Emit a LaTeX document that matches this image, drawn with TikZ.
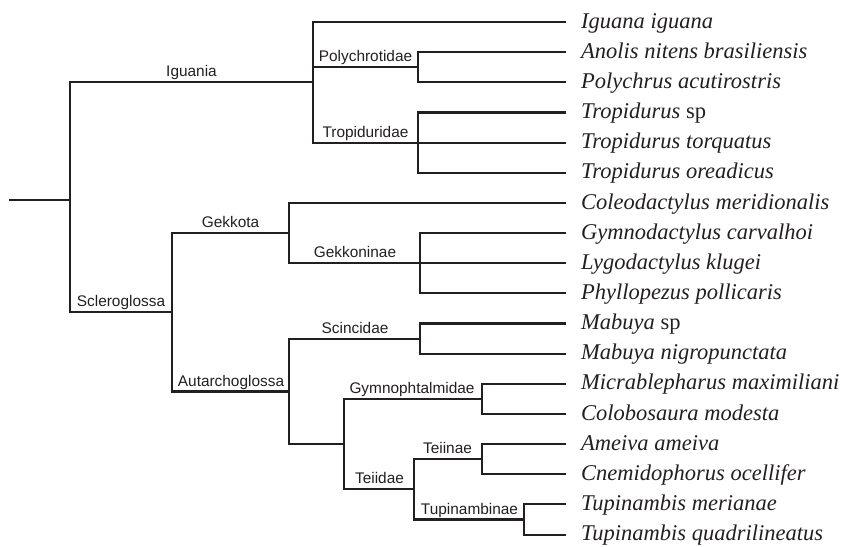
\documentclass[tikz,border=0pt]{standalone}
\usepackage{fontspec}
\setmainfont{Liberation Serif}
\setsansfont{Liberation Sans}
\definecolor{ink}{HTML}{231F20}
\begin{document}
\begin{tikzpicture}[x=1pt,y=-1pt,
  branch/.style={draw=ink,line width=2.1pt,line cap=rect},
  taxon/.style={anchor=base west,inner sep=0pt,text=ink,font=\fontsize{22.5}{24}\selectfont\itshape},
  clade/.style={anchor=base,inner sep=0pt,text=ink,font=\fontsize{15.4}{17}\selectfont\sffamily}]
\useasboundingbox (0,0) rectangle (842,546);
% leaf ends
\foreach \i/\yy in {0/22,1/52.2,2/82.3,3/112.5,4/142.6,5/172.8,6/203,7/233,8/263.2,9/293.4,10/323.5,11/353.7,12/383.8,13/414,14/444.1,15/474.3,16/504.4,17/534.6}{
  \coordinate (e\i) at (565,\yy);
}
% taxon names
\node[taxon] (t0) at (581,28) {Iguana iguana};
\node[taxon] (t1) at (581,58.2) {Anolis nitens brasiliensis};
\node[taxon] (t2) at (581,88.3) {Polychrus acutirostris};
\node[taxon] (t3) at (581,118.5) {Tropidurus\/ \upshape sp};
\node[taxon] (t4) at (581,148.6) {Tropidurus torquatus};
\node[taxon] (t5) at (581,178.8) {Tropidurus oreadicus};
\node[taxon] (t6) at (581,209) {Coleodactylus meridionalis};
\node[taxon] (t7) at (581,239) {Gymnodactylus carvalhoi};
\node[taxon] (t8) at (581,269.2) {Lygodactylus klugei};
\node[taxon] (t9) at (581,299.4) {Phyllopezus pollicaris};
\node[taxon] (t10) at (581,329.5) {Mabuya\/ \upshape sp};
\node[taxon] (t11) at (581,359.7) {Mabuya nigropunctata};
\node[taxon] (t12) at (581,389.8) {Micrablepharus maximiliani};
\node[taxon] (t13) at (581,420) {Colobosaura modesta};
\node[taxon] (t14) at (581,450.1) {Ameiva ameiva};
\node[taxon] (t15) at (581,480.3) {Cnemidophorus ocellifer};
\node[taxon] (t16) at (581,510.4) {Tupinambis merianae};
\node[taxon] (t17) at (581,540.6) {Tupinambis quadrilineatus};
% internal nodes
\coordinate (stem) at (10,200);
\coordinate (root) at (70,200);
\coordinate (ig) at (313,82.3);
\coordinate (poly) at (418,67.2);
\coordinate (trop) at (418,142.6);
\coordinate (sc) at (172,312);
\coordinate (gek) at (289,233);
\coordinate (gekk) at (420,263.2);
\coordinate (aut) at (289,391.5);
\coordinate (scin) at (420,338.6);
\coordinate (low) at (344,444);
\coordinate (gym) at (482,398.9);
\coordinate (tei) at (414,489);
\coordinate (teiin) at (482,459.2);
\coordinate (tup) at (524,519.5);
% branches
\draw[branch] (stem) -- (root);
\draw[branch] (root) |- (ig);
\draw[branch] (root) |- (sc);
\draw[branch] (ig) |- (e0);
\draw[branch] (ig) |- (poly);
\draw[branch] (ig) |- (trop);
\draw[branch] (poly) |- (e1);
\draw[branch] (poly) |- (e2);
\draw[branch] (trop) |- (e3);
\draw[branch] (trop) -- (e4);
\draw[branch] (trop) |- (e5);
\draw[branch] (sc) |- (gek);
\draw[branch] (sc) |- (aut);
\draw[branch] (gek) |- (e6);
\draw[branch] (gek) |- (gekk);
\draw[branch] (gekk) |- (e7);
\draw[branch] (gekk) -- (e8);
\draw[branch] (gekk) |- (e9);
\draw[branch] (aut) |- (scin);
\draw[branch] (aut) |- (low);
\draw[branch] (scin) |- (e10);
\draw[branch] (scin) |- (e11);
\draw[branch] (low) |- (gym);
\draw[branch] (low) |- (tei);
\draw[branch] (gym) |- (e12);
\draw[branch] (gym) |- (e13);
\draw[branch] (tei) |- (teiin);
\draw[branch] (tei) |- (tup);
\draw[branch] (teiin) |- (e14);
\draw[branch] (teiin) |- (e15);
\draw[branch] (tup) |- (e16);
\draw[branch] (tup) |- (e17);
% clade labels
\node[clade] (lig) at (191.5,76.5) {Iguania};
\node[clade] (lpoly) at (365.5,61.5) {Polychrotidae};
\node[clade] (ltrop) at (365.5,137) {Tropiduridae};
\node[clade] (lsc) at (121,306.5) {Scleroglossa};
\node[clade] (lgek) at (230.5,227.5) {Gekkota};
\node[clade] (lgekk) at (355,257.5) {Gekkoninae};
\node[clade] (laut) at (231,386) {Autarchoglossa};
\node[clade] (lscin) at (355,333) {Scincidae};
\node[clade] (lgym) at (412,393.5) {Gymnophtalmidae};
\node[clade] (ltei) at (379.5,483.5) {Teiidae};
\node[clade] (lteiin) at (447.5,453.5) {Teiinae};
\node[clade] (ltup) at (469.5,514) {Tupinambinae};
\end{tikzpicture}
\end{document}
